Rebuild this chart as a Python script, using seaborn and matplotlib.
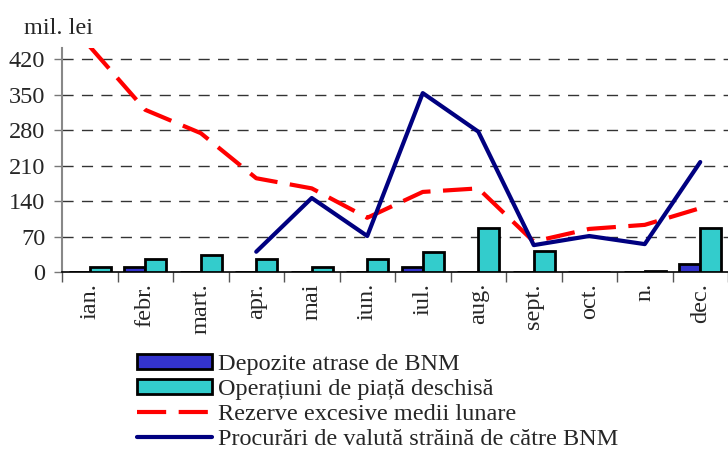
import numpy as np
import pandas as pd
import seaborn as sns
import matplotlib.pyplot as plt
from matplotlib.patches import Patch
from matplotlib.lines import Line2D

months = ['ian.', 'febr.', 'mart.', 'apr.', 'mai', 'iun.', 'iul.', 'aug.',
          'sept.', 'oct.', 'n.', 'dec.']
depozite = [0, 10, 0, 0, 0, 0, 10, 0, 0, 0, 0, 16]
operatiuni = [10, 26, 34, 26, 9, 26, 39, 87, 42, 0, 1, 87]
rezerve = [445, 320, 274, 185, 165, 107, 158, 165, 60, 85, 93, 126]
procurari = [np.nan, np.nan, np.nan, 40, 146, 71, 353, 277, 53, 71, 55, 217]

lbl_dep = 'Depozite atrase de BNM'
lbl_op = 'Operațiuni de piață deschisă'
lbl_rez = 'Rezerve excesive medii lunare'
lbl_proc = 'Procurări de valută străină de către BNM'

c_dep = '#3333CC'
c_op = '#33CCCC'
c_rez = '#FF0000'
c_proc = '#000080'

sns.set_style('white')
plt.rcParams['font.family'] = ['Liberation Serif', 'DejaVu Serif']
plt.rcParams['font.size'] = 17.5

df = pd.DataFrame({'luna': months * 2,
                   'serie': [lbl_dep] * 12 + [lbl_op] * 12,
                   'valoare': depozite + operatiuni})

fig = plt.figure(figsize=(7.28, 4.51), dpi=100)
ax = fig.add_axes([62 / 728, 179 / 451, 666 / 728, 224 / 451])

sns.barplot(data=df, x='luna', y='valoare', hue='serie',
            hue_order=[lbl_dep, lbl_op], palette=[c_dep, c_op],
            saturation=1, width=0.76, edgecolor='black', linewidth=2,
            legend=False, ax=ax, zorder=3)

x = np.arange(len(months))
sns.lineplot(x=x, y=rezerve, color=c_rez, linewidth=3, ax=ax, zorder=4)
ax.lines[-1].set_dashes((7, 3))
sns.lineplot(x=x, y=procurari, color=c_proc, linewidth=3, ax=ax, zorder=5)

ax.set_xlim(-0.5, 11.5)
ax.set_ylim(0, 442)
ax.set_yticks(np.arange(0, 421, 70))
ax.set_xticks(x)
ax.set_xticklabels(months, rotation=90, va='top', ha='center')
ax.set_xticks(np.arange(-0.5, 12, 1), minor=True)
ax.tick_params(axis='x', which='major', length=0, pad=8)
ax.tick_params(axis='x', which='minor', length=7, width=1, color='#555555',
               direction='out', bottom=True)
ax.tick_params(axis='y', length=6, width=1, color='#777777', left=True, pad=6)
ax.set_xlabel('')
ax.set_ylabel('')

for v in np.arange(70, 421, 70):
    ax.axhline(v, color='#333333', lw=1, ls=(0, (8, 6)), zorder=1)

sns.despine(ax=ax, top=True, right=True)
ax.spines['left'].set_color('#888888')
ax.spines['left'].set_linewidth(1.5)
ax.spines['bottom'].set_color('black')
ax.spines['bottom'].set_linewidth(1.2)

fig.text(24 / 728, 1 - 28 / 451, 'mil. lei', ha='left', va='center')

handles = [Patch(facecolor=c_dep, edgecolor='black', linewidth=2),
           Patch(facecolor=c_op, edgecolor='black', linewidth=2),
           Line2D([], [], color=c_rez, lw=3, dashes=(7, 3)),
           Line2D([], [], color=c_proc, lw=3)]
fig.legend(handles, [lbl_dep, lbl_op, lbl_rez, lbl_proc],
           loc='upper left', bbox_to_anchor=(137 / 728, 1 - 354 / 451),
           frameon=False, handlelength=3.1, handleheight=0.55,
           handletextpad=0.25, labelspacing=0.17, borderaxespad=0,
           borderpad=0)

fig.savefig('out.png', dpi=100)
